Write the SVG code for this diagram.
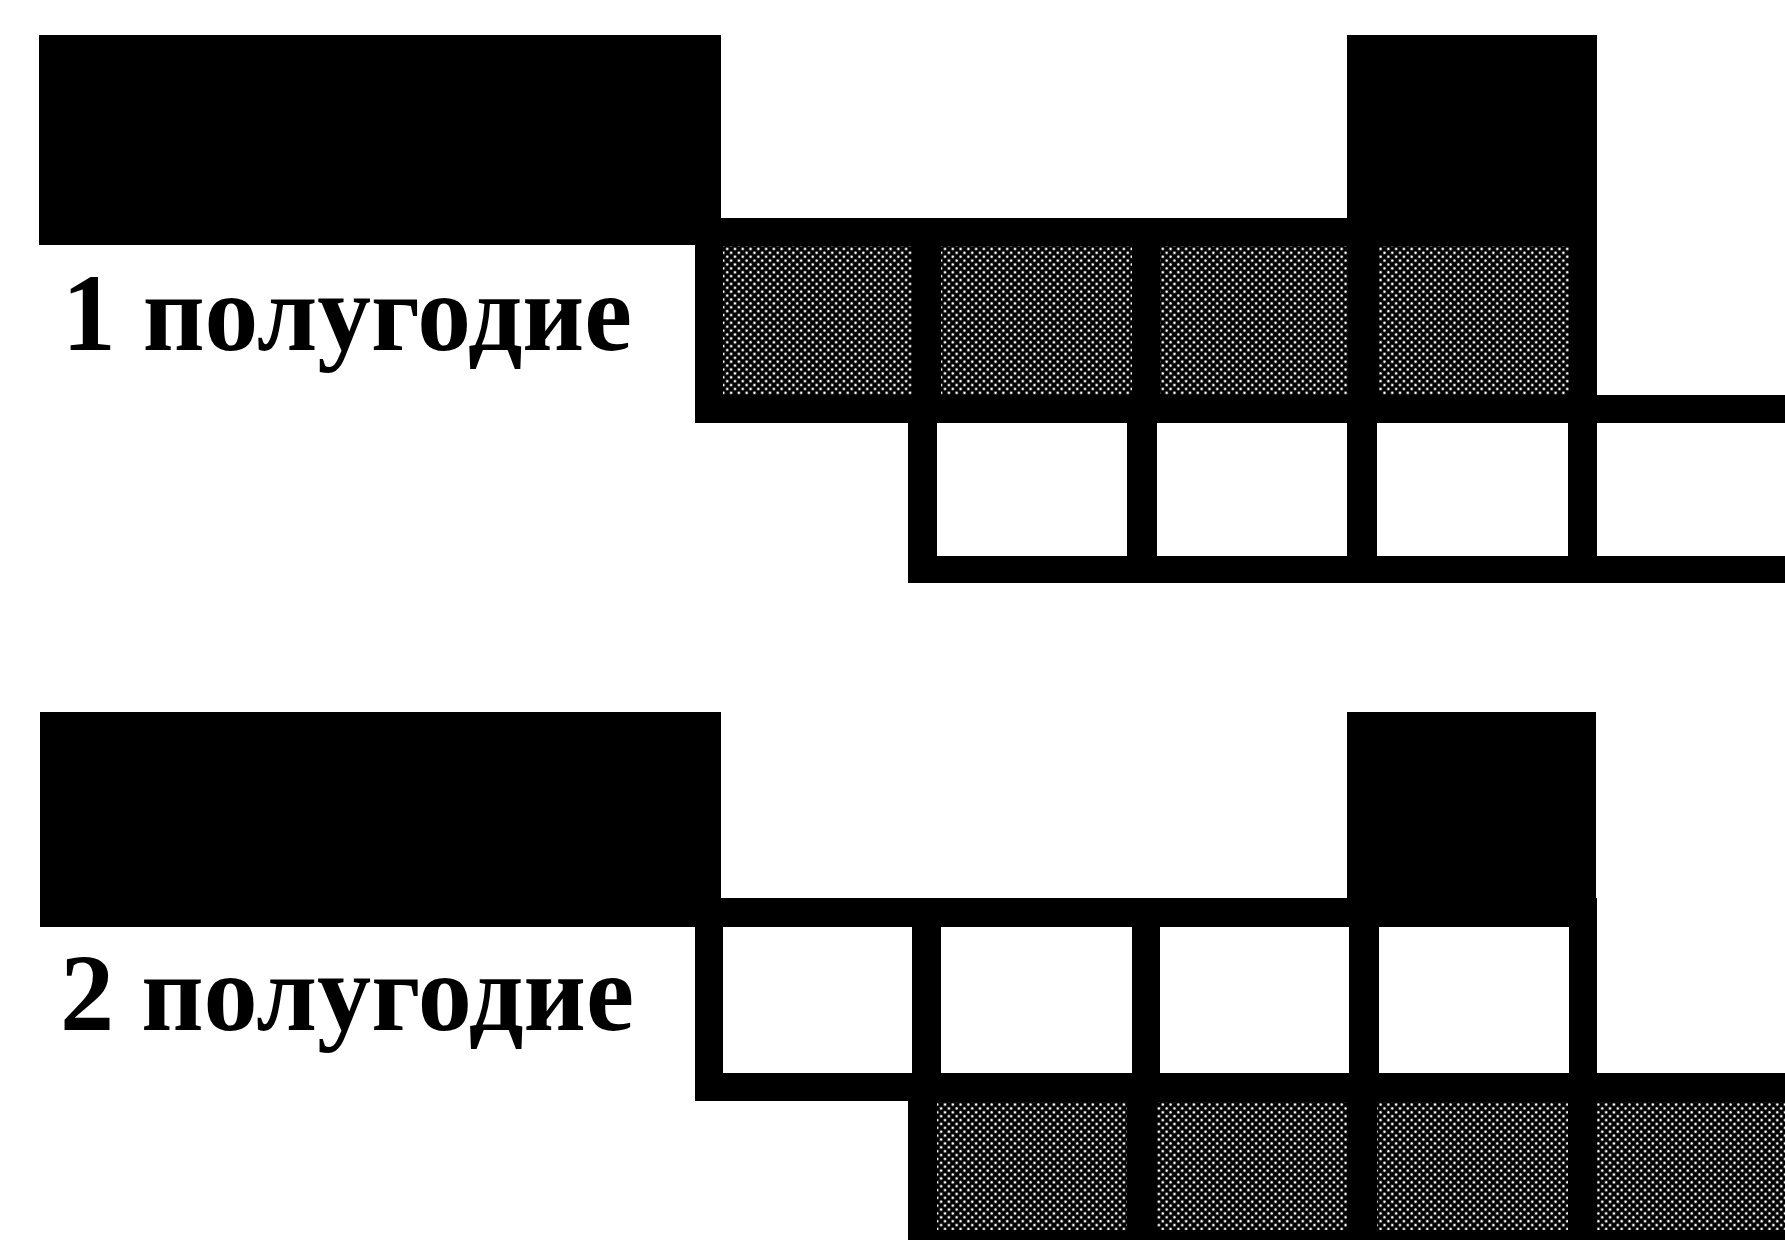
<svg xmlns="http://www.w3.org/2000/svg" width="1785" height="1240" viewBox="0 0 1785 1240">
  <defs>
    <pattern id="halftone" width="5.5" height="5.5" patternUnits="userSpaceOnUse" patternTransform="rotate(45)">
      <rect width="5.5" height="5.5" fill="#000"/>
      <circle cx="2.75" cy="2.75" r="1.4" fill="#fff"/>
    </pattern>
  </defs>
  <style>
    .blk { fill: #000; }
    .wc { fill: #fff; }
    .gc { fill: url(#halftone); }
    .lbl { font-family: "Liberation Serif", "Times New Roman", serif; font-weight: bold; font-size: 110px; fill: #000; }
  </style>
  <rect width="1785" height="1240" fill="#fff"/>

  <g id="half1">
    <g id="half1-bar-left"><rect class="blk" x="39" y="35" width="682" height="210"/></g>
    <g id="half1-bar-right"><rect class="blk" x="1347" y="35" width="250" height="212"/></g>
    <g id="half1-row-top">
      <rect class="blk" x="695" y="218" width="902" height="205"/>
      <rect class="gc" x="723" y="246" width="189" height="149"/>
      <rect class="gc" x="941" y="246" width="191" height="149"/>
      <rect class="gc" x="1160" y="246" width="188" height="149"/>
      <rect class="gc" x="1379" y="246" width="190" height="149"/>
    </g>
    <g id="half1-row-bottom">
      <rect class="blk" x="908" y="395" width="900" height="188"/>
      <rect class="wc" x="937" y="423" width="190" height="133"/>
      <rect class="wc" x="1157" y="423" width="190" height="133"/>
      <rect class="wc" x="1377" y="423" width="191" height="133"/>
      <rect class="wc" x="1597" y="423" width="210" height="133"/>
    </g>
    <g id="half1-label"><text class="lbl" x="62" y="350" textLength="570" lengthAdjust="spacingAndGlyphs">1 полугодие</text></g>
  </g>

  <g id="half2">
    <g id="half2-bar-left"><rect class="blk" x="40" y="712" width="681" height="215"/></g>
    <g id="half2-bar-right"><rect class="blk" x="1347" y="712" width="249" height="216"/></g>
    <g id="half2-row-top">
      <rect class="blk" x="695" y="898" width="902" height="203"/>
      <rect class="wc" x="723" y="927" width="189" height="146"/>
      <rect class="wc" x="941" y="927" width="191" height="146"/>
      <rect class="wc" x="1160" y="927" width="189" height="146"/>
      <rect class="wc" x="1379" y="927" width="190" height="146"/>
    </g>
    <g id="half2-row-bottom">
      <rect class="blk" x="908" y="1073" width="900" height="190"/>
      <rect class="gc" x="937" y="1102" width="190" height="128"/>
      <rect class="gc" x="1157" y="1102" width="190" height="128"/>
      <rect class="gc" x="1377" y="1102" width="191" height="128"/>
      <rect class="gc" x="1597" y="1102" width="210" height="128"/>
    </g>
    <g id="half2-label"><text class="lbl" x="60" y="1030" textLength="574" lengthAdjust="spacingAndGlyphs">2 полугодие</text></g>
  </g>

  <g id="connectors"></g>
</svg>
